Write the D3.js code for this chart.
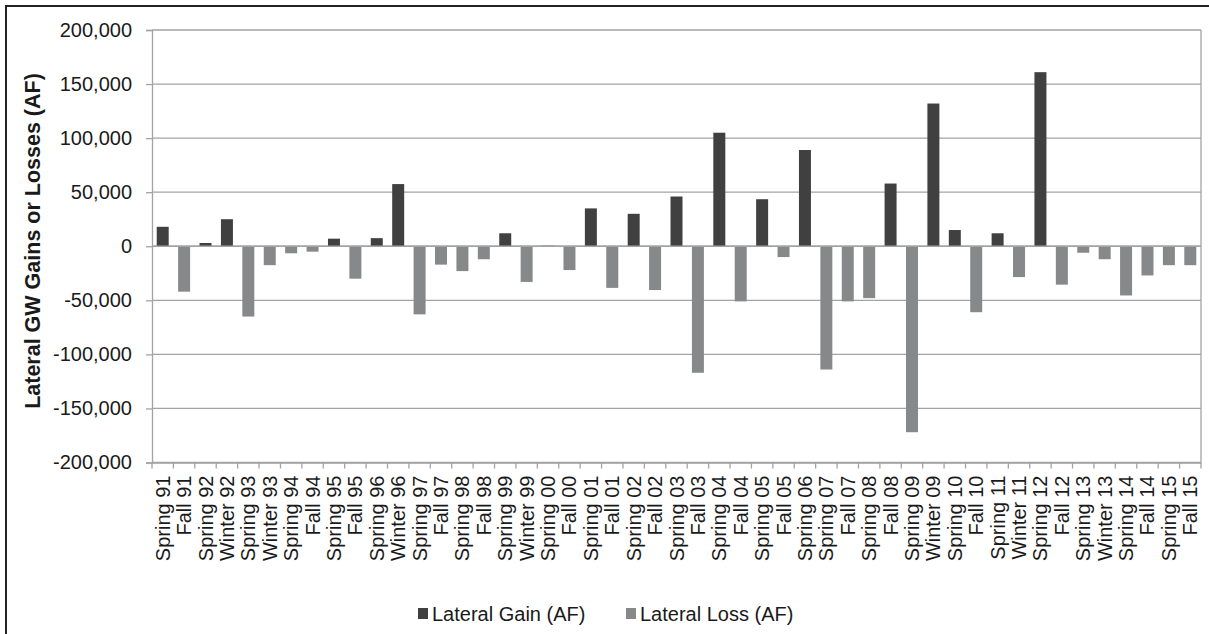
<!DOCTYPE html>
<html>
<head>
<meta charset="utf-8">
<script src="https://cdn.jsdelivr.net/npm/d3@7"></script>
<style>
  html, body { margin: 0; padding: 0; background: #fff; }
  svg { display: block; font-family: "Liberation Sans", Arial, sans-serif; }
</style>
</head>
<body>
<svg id="chart" width="1209" height="634"></svg>
<script>
const categories = ["Spring 91","Fall 91","Spring 92","Winter 92","Spring 93","Winter 93","Spring 94","Fall 94","Spring 95","Fall 95","Spring 96","Winter 96","Spring 97","Fall 97","Spring 98","Fall 98","Spring 99","Winter 99","Spring 00","Fall 00","Spring 01","Fall 01","Spring 02","Fall 02","Spring 03","Fall 03","Spring 04","Fall 04","Spring 05","Fall 05","Spring 06","Spring 07","Fall 07","Spring 08","Fall 08","Spring 09","Winter 09","Spring 10","Fall 10","Spring 11","Winter 11","Spring 12","Fall 12","Spring 13","Winter 13","Spring 14","Fall 14","Spring 15","Fall 15"];

const lateralGain = [18000,null,3000,25000,null,null,null,null,7000,null,7500,57500,null,null,null,null,12000,null,500,null,35000,null,30000,null,46000,null,105000,null,43500,null,89000,null,null,null,58000,null,132000,15000,null,12000,null,161000,null,null,null,null,null,null,null];

const lateralLoss = [null,-42000,null,null,-65000,-17500,-6500,-5000,null,-30000,null,null,-63000,-17000,-23000,-12000,null,-33000,null,-22000,null,-38500,null,-40500,null,-117000,null,-51000,null,-10000,null,-114000,-51000,-48000,null,-172000,null,null,-61000,null,-28500,null,-35500,-6000,-12000,-45500,-27000,-17500,-17500];

const yTicks = [-200000,-150000,-100000,-50000,0,50000,100000,150000,200000];
const seriesNames = ["Lateral Gain (AF)", "Lateral Loss (AF)"];
const seriesColors = ["#404040", "#87888a"];

const svg = d3.select("#chart");
const plot = {left: 152, right: 1201, top: 30, bottom: 462.5};
const textColor = "#1a1a1a";

// outer frame
svg.append("rect").attr("x", 6).attr("y", 6).attr("width", 1220).attr("height", 660)
  .attr("fill", "none").attr("stroke", "#222").attr("stroke-width", 2);

const x = d3.scaleBand().domain(categories).range([plot.left, plot.right]).padding(0);
const y = d3.scaleLinear().domain([-200000, 200000]).range([plot.bottom, plot.top]);
const gridColor = "#a3a3a3";
const fmt = d => d3.format(",")(d).replace("\u2212", "-");

// gridlines + y axis
const yAxis = d3.axisLeft(y).tickValues(yTicks).tickFormat(fmt).tickSize(6).tickPadding(14);
const gy = svg.append("g").attr("transform", `translate(${plot.left},0)`).call(yAxis);
gy.select(".domain").attr("stroke", gridColor).attr("stroke-width", 1.3);
gy.selectAll(".tick line").attr("stroke", gridColor).attr("stroke-width", 1.3);
gy.selectAll(".tick text").attr("font-size", 20).attr("fill", textColor)
  .attr("font-family", "Liberation Sans, Arial, sans-serif");

svg.append("g").selectAll("line").data(yTicks).join("line")
  .attr("x1", plot.left).attr("x2", plot.right)
  .attr("y1", d => y(d)).attr("y2", d => y(d))
  .attr("stroke", gridColor).attr("stroke-width", 1.3);

// right plot border
svg.append("line").attr("x1", plot.right).attr("x2", plot.right)
  .attr("y1", plot.top).attr("y2", plot.bottom).attr("stroke", gridColor).attr("stroke-width", 1.3);

// bars
const barW = x.bandwidth() * 0.56;
const series = [lateralGain, lateralLoss];
series.forEach((vals, si) => {
  svg.append("g").selectAll("rect")
    .data(categories.map((c, i) => ({c, v: vals[i]})).filter(d => d.v !== null))
    .join("rect")
    .attr("x", d => x(d.c) + (x.bandwidth() - barW) / 2)
    .attr("width", barW)
    .attr("y", d => y(Math.max(0, d.v)))
    .attr("height", d => Math.abs(y(d.v) - y(0)))
    .attr("fill", seriesColors[si]);
});

// zero line on top
svg.append("line").attr("x1", plot.left).attr("x2", plot.right)
  .attr("y1", y(0)).attr("y2", y(0)).attr("stroke", gridColor).attr("stroke-width", 1.3);

// x axis
const xAxis = d3.axisBottom(x).tickSize(0).tickPadding(0);
const gx = svg.append("g").attr("transform", `translate(0,${plot.bottom})`).call(xAxis);
gx.select(".domain").attr("stroke", gridColor).attr("stroke-width", 1.3);
gx.selectAll(".tick text")
  .attr("font-size", 20).attr("fill", textColor)
  .attr("font-family", "Liberation Sans, Arial, sans-serif")
  .attr("transform", "rotate(-90)")
  .attr("text-anchor", "end")
  .attr("x", -13).attr("y", 0).attr("dy", "0.35em");
// category boundary ticks
const bounds = categories.map(c => x(c)).concat([plot.right]);
svg.append("g").selectAll("line").data(bounds).join("line")
  .attr("x1", d => d).attr("x2", d => d)
  .attr("y1", plot.bottom).attr("y2", plot.bottom + 6)
  .attr("stroke", gridColor).attr("stroke-width", 1.3);

// y title
svg.append("text")
  .attr("transform", `translate(40,241) rotate(-90)`)
  .attr("text-anchor", "middle")
  .attr("font-size", 21.5).attr("font-weight", "bold").attr("fill", textColor)
  .text("Lateral GW Gains or Losses (AF)");

// legend
const legendX = [418, 626];
seriesNames.forEach((name, i) => {
  const g = svg.append("g").attr("transform", `translate(${legendX[i]},608)`);
  g.append("rect").attr("width", 10).attr("height", 11).attr("fill", seriesColors[i]);
  g.append("text").attr("x", 14).attr("y", 5.5).attr("dy", "0.35em")
    .attr("font-size", 20).attr("fill", textColor).text(name);
});
</script>
</body>
</html>
